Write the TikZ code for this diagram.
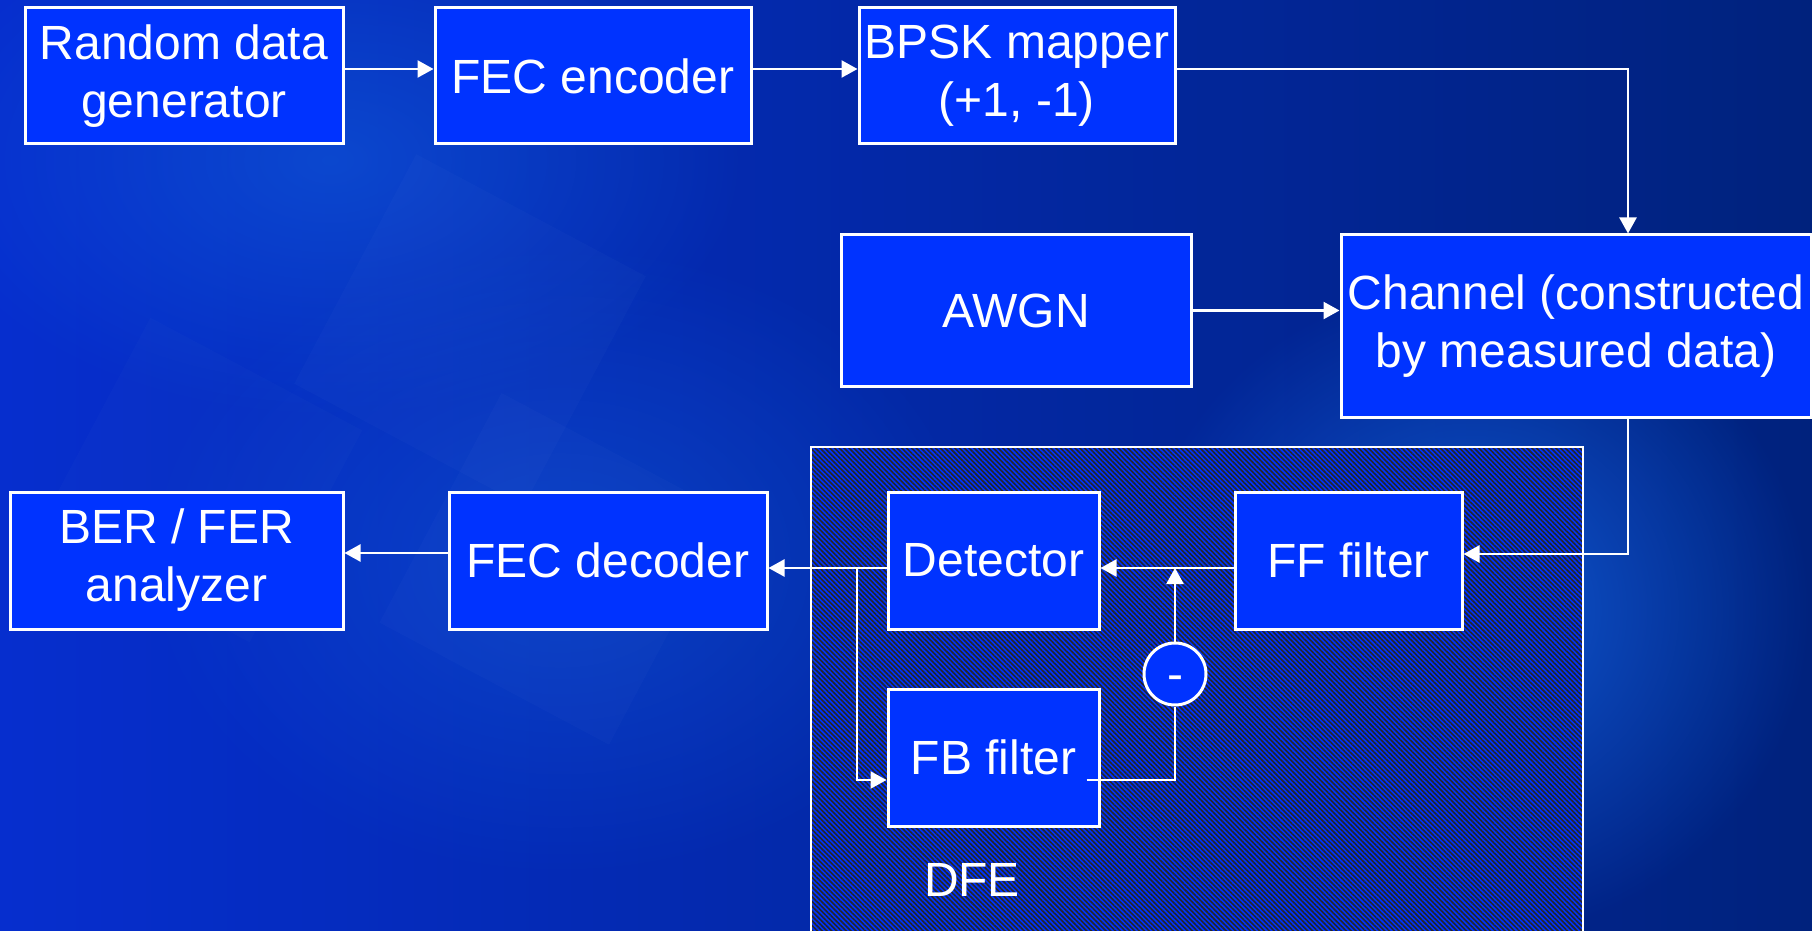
\documentclass[tikz,border=0pt]{standalone}
\usepackage{fontspec}
\setmainfont{Liberation Sans}
\usetikzlibrary{arrows.meta, patterns.meta, fadings}

\definecolor{boxblue}{RGB}{0,51,255}
\definecolor{bgleft}{RGB}{6,46,206}
\definecolor{bgmid}{RGB}{0,30,165}
\definecolor{bgright}{RGB}{0,34,125}
\definecolor{bgglow}{RGB}{18,98,222}

\tikzfading[name=glow, inner color=transparent!15, outer color=transparent!100]

\begin{document}
\begin{tikzpicture}[x=0.5pt, y=-0.5pt,
    blk/.style={draw=white, line width=1.5pt, fill=boxblue, text=white,
      align=center, inner sep=0pt, font=\fontsize{24}{29}\selectfont},
    sumnode/.style={draw=white, line width=1.5pt, fill=boxblue, text=white,
      circle, inner sep=0pt, minimum size=31pt, text height=16pt, text depth=0pt,
      font=\fontsize{24}{29}\selectfont},
    wire/.style={draw=white, line width=1.2pt},
    >={Triangle[length=8pt,width=8.5pt]}]

	% Canvas
	\useasboundingbox (0,0) rectangle (1812,931);
	\begin{scope}
		\clip (0,0) rectangle (1812,931);
		% Background
		\shade[left color=bgleft, middle color=bgmid, right color=bgright] (0,0) rectangle (1812,931);
		\fill[bgglow, path fading=glow] (1470,610) ellipse (340 and 330);
		\fill[bgglow, path fading=glow, opacity=0.6] (330,160) ellipse (420 and 260);
		\fill[bgglow, path fading=glow, opacity=0.5] (560,560) ellipse (420 and 320);
		% faint tiles
		\fill[white, opacity=0.018, rotate around={-28:(470,330)}] (340,200) rectangle (600,460);
		\fill[white, opacity=0.018, rotate around={-28:(560,560)}] (430,440) rectangle (690,700);
		\fill[white, opacity=0.014, rotate around={-28:(200,480)}] (80,360) rectangle (320,600);

		% DFE area
		\fill[boxblue] (811,447) rectangle (1583,945);
		\fill[pattern={Lines[angle=-45,distance=1.7pt,line width=0.8pt]}, pattern color=black!85]
			(811,447) rectangle (1583,945);
		\draw[white, line width=1.2pt] (811,945) -- (811,447) -- (1583,447) -- (1583,945);
	\end{scope}

	% Transmitter
	\node[blk, minimum width=159pt, minimum height=68pt] (rdg) at (184,76) {Random data\\generator};
	\node[blk, minimum width=158pt, minimum height=68pt] (fenc) at (593,76) {FEC encoder};
	\node[blk, minimum width=158pt, minimum height=68pt] (bpsk) at (1017,76) {BPSK mapper\\(+1, -1)};

	% Channel and noise
	\node[blk, minimum width=175pt, minimum height=75.5pt] (awgn) at (1016,310.5) {AWGN};
	\node[blk, minimum width=235pt, minimum height=91pt] (chan) at (1576,326) {Channel (constructed\\ by measured data)};

	% Receiver
	\node[blk, minimum width=166.5pt, minimum height=68.5pt] (ber) at (176.5,560.5) {BER / FER\\analyzer};
	\node[blk, minimum width=159pt, minimum height=68.5pt] (fdec) at (608,560.5) {FEC decoder};
	\node[blk, minimum width=105.5pt, minimum height=68.5pt] (det) at (993.5,560.5) {Detector};
	\node[blk, minimum width=113.5pt, minimum height=68.5pt] (ff) at (1348.5,560.5) {FF filter};
	\node[blk, minimum width=105.5pt, minimum height=68.5pt] (fbf) at (993.5,757.5) {FB filter};
	\node[sumnode] (minus) at (1175,674) {-};
	\node[text=white, font=\fontsize{24}{29}\selectfont] (dfe) at (972,880) {DFE};

	\coordinate (tap) at (857,568);
	\coordinate (sum) at (1175,568);

	% Connections
	\draw[wire, ->] ([yshift=3.5pt]rdg.east) -- ([yshift=3.5pt]fenc.west);
	\draw[wire, ->] ([yshift=3.5pt]fenc.east) -- ([yshift=3.5pt]bpsk.west);
	\draw[wire, ->] ([yshift=3.5pt]bpsk.east) -| ([xshift=26pt]chan.north);
	\draw[wire, ->] (awgn.east) -- (awgn.east -| chan.west);
	\draw[wire, ->] ([xshift=26pt]chan.south) |- ([yshift=3.25pt]ff.east);
	\draw[wire, ->] ([yshift=-3.75pt]ff.west) -- ([yshift=-3.75pt]det.east);
	\draw[wire, ->] (minus.north) -- (sum);
	\draw[wire, ->] ([yshift=-3.75pt]det.west) -- ([yshift=-3.75pt]fdec.east);
	\draw[wire, ->] (tap) |- ([yshift=-11.25pt]fbf.west);
	\draw[wire] ([xshift=-7pt,yshift=-11.25pt]fbf.east) -| (minus.south);
	\draw[wire, ->] ([yshift=3.75pt]fdec.west) -- ([yshift=3.75pt]ber.east);
\end{tikzpicture}
\end{document}
